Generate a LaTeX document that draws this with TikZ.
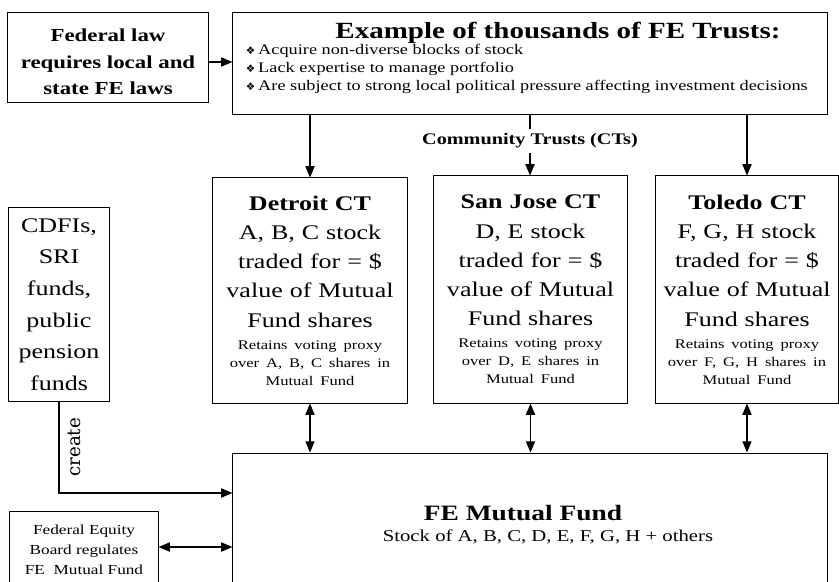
\documentclass[tikz,border=0pt]{standalone}
\usepackage{fontspec}
\setmainfont{Liberation Serif}[FakeStretch=1.25]
\newfontfamily\dingfont{DejaVu Sans}
\newfontfamily\createfont{DejaVu Serif}
\usetikzlibrary{arrows.meta}
\newcommand\bigtxt{\fontsize{14.8}{20.8}\selectfont}
\newcommand\smalltxt{\fontsize{9.4}{12.8}\selectfont}
\newcommand\dia{{\dingfont\fontsize{7.5}{9}\selectfont\char"2756}\hspace{2pt}}

\begin{document}
\begin{tikzpicture}[x=0.025cm, y=-0.025cm,
  box/.style={draw, line width=0.7pt, inner sep=0pt, align=center},
  ctbox/.style={box, text width=4.5cm, font=\bigtxt},
  arr/.style={line width=0.9pt, -{Triangle[length=8pt,width=6.5pt]}},
  darr/.style={line width=0.9pt, {Triangle[length=8pt,width=6.5pt]}-{Triangle[length=8pt,width=6.5pt]}}]
\useasboundingbox (0,0) rectangle (839,581);
\clip (0,0) rectangle (839,581);

\node[box, minimum width=5cm, minimum height=2.25cm, font=\fontsize{13}{18.9}\selectfont\bfseries] (fedlaw) at (108,57) {\rule{0pt}{16pt}Federal law\\requires local and\\state FE laws};
\node[box, minimum width=14.85cm, minimum height=2.55cm] (trusts) at (530,63) {};
\node[font=\fontsize{16.5}{18}\selectfont\bfseries] (trusthead) at (558,33) {Example of thousands of FE Trusts:};
\node[anchor=west, align=left, font=\fontsize{10.4}{12.8}\selectfont] (trustitems) at (241,69)
  {\dia Acquire non-diverse blocks of stock\\\dia Lack expertise to manage portfolio\\\dia Are subject to strong local political pressure affecting investment decisions};
\node[font=\fontsize{11.5}{13}\selectfont\bfseries] (ctlabel) at (530,141) {Community Trusts (CTs)};

\node[ctbox, minimum width=4.85cm, minimum height=5.625cm] (detroit) at (310,290.5)
  {{\textbf{Detroit CT}\par A, B, C stock\par traded for = \$\par value of Mutual\par Fund shares\par}\vspace{2.8pt}%
   {\smalltxt Retains voting proxy\par over A, B, C shares in\par Mutual Fund\par}};
\node[ctbox, minimum width=4.825cm, minimum height=5.675cm] (sanjose) at (530.5,289.5)
  {{\textbf{San Jose CT}\par D, E stock\par traded for = \$\par value of Mutual\par Fund shares\par}\vspace{2.8pt}%
   {\smalltxt Retains voting proxy\par over D, E shares in\par Mutual Fund\par}};
\node[ctbox, minimum width=4.55cm, minimum height=5.675cm] (toledo) at (747,289.5)
  {{\textbf{Toledo CT}\par F, G, H stock\par traded for = \$\par value of Mutual\par Fund shares\par}\vspace{2.8pt}%
   {\smalltxt Retains voting proxy\par over F, G, H shares in\par Mutual Fund\par}};

\node[box, minimum width=2.5cm, minimum height=4.825cm, font=\fontsize{14.8}{22.5}\selectfont] (cdfi) at (59,304.5)
  {CDFIs,\\SRI\\funds,\\public\\pension\\funds};

\node[box, minimum width=14.85cm, minimum height=3.925cm] (mutual) at (530,531.5) {};
\node[font=\fontsize{15.6}{17}\selectfont\bfseries] (mfname) at (523,513) {FE Mutual Fund};
\node[font=\fontsize{11.8}{13}\selectfont] (mfstock) at (548,537) {Stock of A, B, C, D, E, F, G, H + others};

\node[box, minimum width=3.7cm, minimum height=1.95cm, font=\fontsize{9.8}{14.2}\selectfont] (feb) at (84,550)
  {Federal Equity\\Board regulates\\FE~ Mutual Fund};

\draw[arr] ([yshift=-0.125cm]fedlaw.east) -- ([yshift=-0.125cm]fedlaw.east -| trusts.west);
\draw[arr] (trusts.south -| detroit.north) -- (detroit.north);
\draw[line width=0.9pt] (trusts.south -| ctlabel.north) -- (ctlabel.north);
\draw[arr] (ctlabel.south) -- (ctlabel.south |- sanjose.north);
\draw[arr] (trusts.south -| toledo.north) -- (toledo.north);

\draw[darr] (detroit.south) -- (detroit.south |- mutual.north);
\draw[darr] (sanjose.south) -- (sanjose.south |- mutual.north);
\draw[darr] (toledo.south) -- (toledo.south |- mutual.north);

\draw[arr] (cdfi.south) |- node[pos=0.25, rotate=90, anchor=north, inner xsep=0pt, inner ysep=6pt, font=\createfont\fontsize{13}{14}\selectfont] (createlbl) {create} ([yshift=0.9625cm]mutual.west);
\draw[darr] ([yshift=0.075cm]feb.east) -- ([yshift=0.075cm]feb.east -| mutual.west);
\end{tikzpicture}
\end{document}
